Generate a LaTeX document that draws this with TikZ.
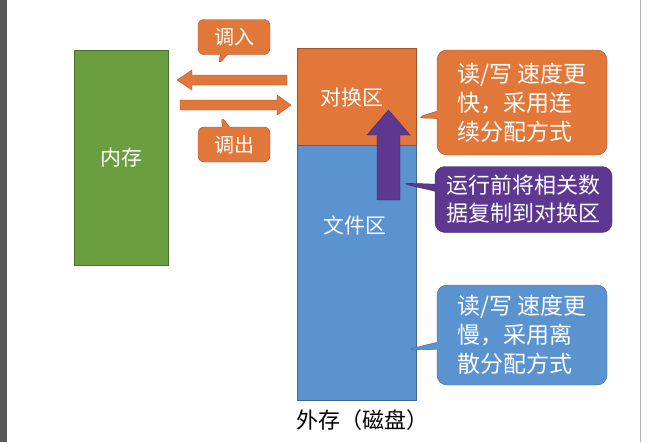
\documentclass[tikz,border=0pt]{standalone}
\usepackage{fontspec}
\setmainfont{Noto Sans CJK SC}
\usetikzlibrary{shapes.callouts,arrows.meta}
\definecolor{memgreen}{HTML}{6B9E3E}
\definecolor{swaporange}{HTML}{E2773A}
\definecolor{fileblue}{HTML}{5A93CF}
\definecolor{tipviolet}{HTML}{5E3790}
\tikzset{
  area/.style={draw=#1!70!black, fill=#1, text=white, font=\fontsize{21}{24}\selectfont},
  tip/.style={rectangle callout, rounded corners=10pt, draw=#1!70!black, fill=#1, text=white,
    align=left, font=\fontsize{23}{29}\selectfont, inner sep=3pt},
  move/.style={single arrow, draw=swaporange!70!black, fill=swaporange}
}
\begin{document}
\begin{tikzpicture}[x=1pt,y=-1pt]
  \useasboundingbox (0,0) rectangle (653,442);
  \fill[gray!70!black] (0,0) rectangle (7,442);
  \draw[gray!60] (640,0) -- (640,442);

  % memory and disk
  \node (mem) [area=memgreen, minimum width=94pt, minimum height=215pt] at (121,157.5) {内存};
  \node (swap) [area=swaporange, minimum width=119pt, minimum height=97pt] at (356.5,96.5) {};
  \node (swaptext) [text=white, font=\fontsize{21}{24}\selectfont] at (352,98) {对换区};
  \node (file) [area=fileblue, minimum width=119pt, minimum height=255pt, anchor=north] at (356.5,145) {};
  \node (filetext) [text=white, font=\fontsize{21}{24}\selectfont] at (355,225) {文件区};
  \node (disk) [font=\fontsize{22}{24}\selectfont] at (362,420) {外存（磁盘）};

  % swap arrows
  \coordinate (outstart) at (287,80);
  \coordinate (outend) at (177,80);
  \coordinate (instart) at (180,105);
  \coordinate (inend) at (291,105);
  \draw[swaporange!70!black, fill=swaporange] (outstart) ++(0,-5) -- (192,75) -- (192,70) -- (outend) -- (192,90) -- (192,85) -- (287,85) -- cycle;
  \draw[swaporange!70!black, fill=swaporange] (instart) ++(0,-5) -- (277,100) -- (277,95) -- (inend) -- (277,115) -- (277,110) -- (180,110) -- cycle;

  \node (callin) [tip=swaporange, callout absolute pointer={(218,65)}, minimum width=72pt, minimum height=35pt, align=center, rounded corners=6pt, font=\fontsize{20}{24}\selectfont] at (234,37) {调入};
  \node (callout) [tip=swaporange, callout absolute pointer={(221,116)}, minimum width=72pt, minimum height=35pt, align=center, rounded corners=6pt, font=\fontsize{20}{24}\selectfont] at (234,144.5) {调出};

  % copy arrow
  \draw[tipviolet!70!black, fill=tipviolet] (377,200) -- (377,135) -- (367,135) -- (388.5,110) -- (410,135) -- (400,135) -- (400,200) -- cycle;

  % notes
  \node (fastnote) [tip=swaporange, callout absolute pointer={(415,118)}, minimum width=170pt, minimum height=105pt] at (522,102.5) {读/写 速度更\\快，采用连\\续分配方式};
  \node (copynote) [tip=tipviolet, callout absolute pointer={(400,183)}, minimum width=177pt, minimum height=66pt, font=\fontsize{22}{28}\selectfont] at (523.5,199.5) {运行前将相关数\\据复制到对换区};
  \node (slownote) [tip=fileblue, callout absolute pointer={(405,350)}, minimum width=170pt, minimum height=100pt] at (522,335) {读/写 速度更\\慢，采用离\\散分配方式};
\end{tikzpicture}
\end{document}
